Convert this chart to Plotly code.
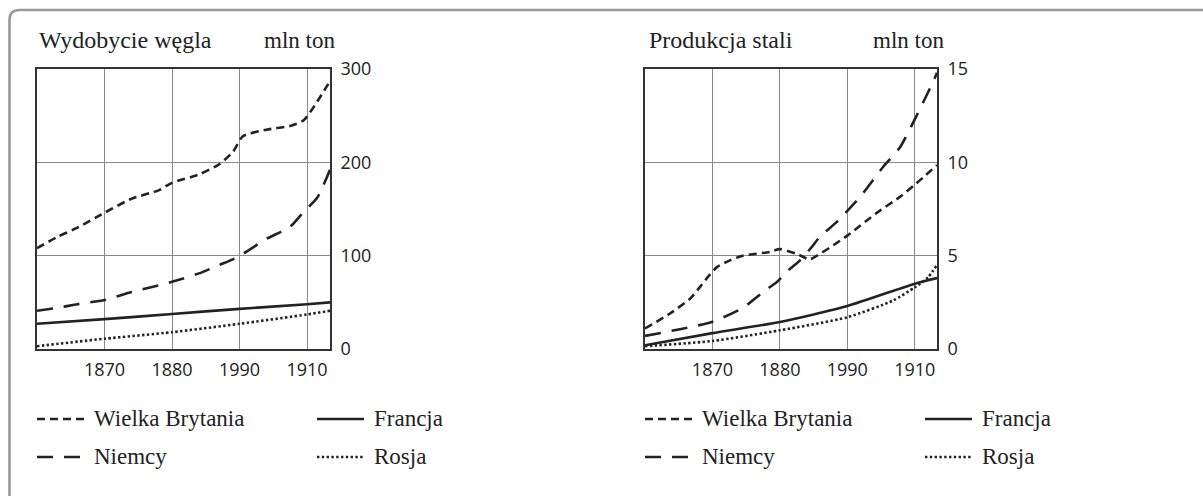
import plotly.graph_objects as go

W, H = 1203, 496

# ---------------- data ----------------
# Coal (mln ton)
coal_gb_years = [1860, 1863, 1866, 1870, 1874, 1878, 1880, 1884, 1887, 1889, 1890.5, 1894, 1897.5, 1899.5, 1901.5, 1903.4]
coal_gb = [108, 120, 130, 146, 161, 170, 178, 187, 198, 211, 228, 235, 239, 245, 265, 287]
coal_de = [41, 44, 48, 52.5, 61, 68, 72, 81, 90, 96, 102, 118, 131, 147, 162, 192]
coal_fr_ru_years = [1860, 1870, 1880, 1890, 1900, 1903.4]
coal_fr = [27, 32, 37.5, 43, 48, 50]
coal_ru = [3, 11, 18, 27, 37, 41]

# Steel (mln ton)
steel_gb_years = [1860, 1863.7, 1866.7, 1868.1, 1869.3, 1870.7, 1872.6, 1874.5, 1878.5, 1880,
                  1882.5, 1884.4, 1885.5, 1887.9, 1890.1, 1894.4, 1897.8, 1900, 1903.3]
steel_gb = [1.1, 1.9, 2.7, 3.3, 3.85, 4.4, 4.75, 5.0, 5.2, 5.35, 5.1, 4.8, 5.0, 5.55, 6.1, 7.3, 8.15, 8.8, 9.85]
steel_de_years = [1860, 1869.9, 1874.5, 1877.5, 1879.6, 1881.2, 1883, 1884.7, 1885.9, 1888.4,
                  1891.9, 1895.3, 1897.8, 1900, 1902.7, 1903.3]
steel_de = [0.7, 1.45, 2.2, 3.05, 3.6, 4.2, 4.75, 5.45, 6.0, 6.8, 8.15, 9.75, 10.8, 12.3, 14.3, 14.8]
steel_fr_years = [1860, 1870, 1880, 1890, 1900, 1903.3]
steel_fr = [0.2, 0.85, 1.45, 2.3, 3.5, 3.8]
steel_ru_years = [1860, 1870, 1880, 1890, 1896.8, 1900, 1902, 1903.3]
steel_ru = [0.15, 0.43, 1.0, 1.7, 2.6, 3.3, 3.85, 4.5]

x_tickvals = [1870, 1880, 1890, 1900]
x_ticktext = ["1870", "1880", "1990", "1910"]
coal_ticks = [0, 100, 200, 300]
steel_ticks = [0, 5, 10, 15]

series_names = ["Wielka Brytania", "Niemcy", "Francja", "Rosja"]
titles = ["Wydobycie węgla", "Produkcja stali"]
unit = "mln ton"

# ---------------- styles ----------------
INK = "#222222"
LW = 2.6
dash_gb = "8px,5px"
dash_de = "16px,11px"
dash_fr = "solid"
dash_ru = "2.4px,2.4px"
styles = [dash_gb, dash_de, dash_fr, dash_ru]

def px_x(x):
    return x / W

def px_y(y):
    return 1 - y / H

fig = go.Figure()

def add(xs, ys, dash, xa, ya):
    fig.add_trace(go.Scatter(
        x=xs, y=ys, mode="lines", xaxis=xa, yaxis=ya,
        line=dict(color=INK, width=LW, dash=dash, shape="spline", smoothing=0.6),
        showlegend=False, hoverinfo="skip"))

add(coal_gb_years, coal_gb, dash_gb, "x", "y")
add(coal_gb_years, coal_de, dash_de, "x", "y")
add(coal_fr_ru_years, coal_fr, dash_fr, "x", "y")
add(coal_fr_ru_years, coal_ru, dash_ru, "x", "y")

add(steel_gb_years, steel_gb, dash_gb, "x2", "y2")
add(steel_de_years, steel_de, dash_de, "x2", "y2")
add(steel_fr_years, steel_fr, dash_fr, "x2", "y2")
add(steel_ru_years, steel_ru, dash_ru, "x2", "y2")

plot_top, plot_bot = 69, 349
ydom = [px_y(plot_bot), px_y(plot_top)]
panels = [(37, 330, 1903.4), (645, 937, 1903.3)]

tickfont = dict(family="Open Sans", size=18, color=INK)
common_x = dict(tickvals=x_tickvals, ticktext=x_ticktext, showgrid=True, gridcolor="#8a8a8a",
                gridwidth=1, showline=True, linecolor="#333333", linewidth=1.6, mirror=True,
                zeroline=False, ticks="", tickfont=tickfont, ticklabelstandoff=4,
                fixedrange=True, automargin=False)
common_y = dict(showgrid=True, gridcolor="#8a8a8a", gridwidth=1, showline=True,
                linecolor="#333333", linewidth=1.6, mirror=True, zeroline=False, ticks="",
                side="right", tickfont=tickfont, ticklabelstandoff=5, fixedrange=True,
                automargin=False)

fig.update_layout(
    template="none",
    xaxis=dict(domain=[px_x(panels[0][0]), px_x(panels[0][1])], range=[1860, panels[0][2]],
               anchor="y", **common_x),
    yaxis=dict(domain=ydom, range=[0, 300], tickvals=coal_ticks, anchor="x", **common_y),
    xaxis2=dict(domain=[px_x(panels[1][0]), px_x(panels[1][1])], range=[1860, panels[1][2]],
                anchor="y2", **common_x),
    yaxis2=dict(domain=ydom, range=[0, 15], tickvals=steel_ticks, anchor="x2", **common_y),
)

serif = dict(family="Liberation Serif", size=23, color=INK)
serif_title = dict(family="Liberation Serif", size=24, color=INK)
annotations = []
shapes = []

# frame (rounded top-left corner)
fx, fy, r = 9.5, 10, 10
shapes.append(dict(
    type="path", xref="paper", yref="paper",
    path=(f"M {px_x(fx)},{px_y(H + 5)} L {px_x(fx)},{px_y(fy + r)} "
          f"Q {px_x(fx)},{px_y(fy)} {px_x(fx + r)},{px_y(fy)} L {px_x(W + 5)},{px_y(fy)}"),
    line=dict(color="#9a9a9a", width=2.6)))

title_pos = [(37, 262), (647, 871)]
for (tx, ux), t in zip(title_pos, titles):
    annotations.append(dict(x=px_x(tx), y=px_y(40), xref="paper", yref="paper", text=t,
                            showarrow=False, xanchor="left", yanchor="middle", font=serif_title))
    annotations.append(dict(x=px_x(ux), y=px_y(40), xref="paper", yref="paper", text=unit,
                            showarrow=False, xanchor="left", yanchor="middle", font=serif))

# legends
leg_cols = [(37, 317), (645, 925)]
rows = [419, 457]
for c1, c2 in leg_cols:
    entries = [(c1, rows[0], 0), (c1, rows[1], 1), (c2, rows[0], 2), (c2, rows[1], 3)]
    for lx, ly, i in entries:
        shapes.append(dict(type="line", xref="paper", yref="paper",
                           x0=px_x(lx), x1=px_x(lx + 47), y0=px_y(ly), y1=px_y(ly),
                           line=dict(color=INK, width=LW, dash=styles[i])))
        annotations.append(dict(x=px_x(lx + 55), y=px_y(ly - 1), xref="paper", yref="paper",
                                text=series_names[i], showarrow=False, xanchor="left",
                                yanchor="middle", font=serif))

fig.update_layout(
    width=W, height=H, margin=dict(l=0, r=0, t=0, b=0, pad=0, autoexpand=False),
    paper_bgcolor="white", plot_bgcolor="white",
    annotations=annotations, shapes=shapes, showlegend=False,
)

fig.write_html("out.html", config={"displayModeBar": False},
               post_script="document.body.style.margin='0';")
